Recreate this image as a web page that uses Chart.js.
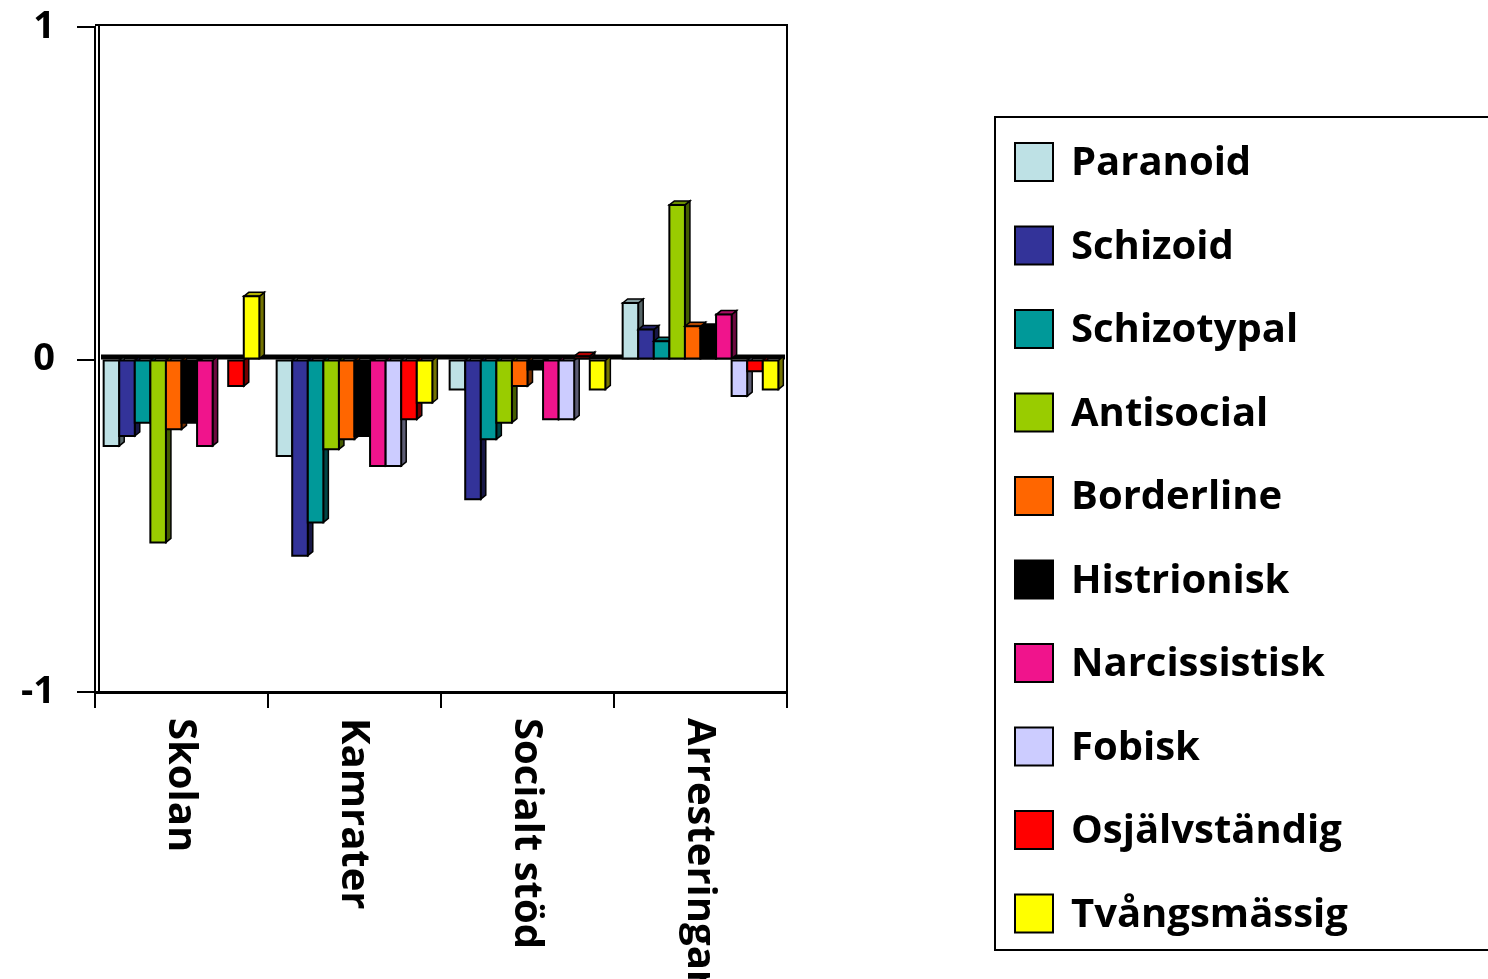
<!DOCTYPE html>
<html>
<head>
<meta charset="utf-8">
<script src="https://cdn.jsdelivr.net/npm/chart.js@4.4.0/dist/chart.umd.min.js"></script>
<style>
  body { margin: 0; background: #fff; }
  #wrap { width: 1488px; height: 979px; position: relative; }
</style>
</head>
<body>
<div id="wrap"><canvas id="myPlot"></canvas></div>
<script>
/* global Chart */
const categories = ['Skolan', 'Kamrater', 'Socialt stöd', 'Arresteringar'];
const seriesNames = ['Paranoid', 'Schizoid', 'Schizotypal', 'Antisocial', 'Borderline',
  'Histrionisk', 'Narcissistisk', 'Fobisk', 'Osjälvständig', 'Tvångsmässig'];
const paranoid      = [-0.26, -0.29, -0.09,  0.17];
const schizoid      = [-0.23, -0.59, -0.42,  0.09];
const schizotypal   = [-0.19, -0.49, -0.24,  0.055];
const antisocial    = [-0.55, -0.27, -0.19,  0.465];
const borderline    = [-0.21, -0.24, -0.08,  0.10];
const histrionisk   = [-0.19, -0.23, -0.03,  0.095];
const narcissistisk = [-0.26, -0.32, -0.18,  0.135];
const fobisk        = [ 0,    -0.32, -0.18, -0.11];
const osjalvstandig = [-0.08, -0.18,  0.01, -0.035];
const tvangsmassig  = [ 0.19, -0.13, -0.09, -0.09];
const yTicks = [-1, 0, 1];

var allValues = [paranoid, schizoid, schizotypal, antisocial, borderline,
  histrionisk, narcissistisk, fobisk, osjalvstandig, tvangsmassig];
var colors = ['#BEE1E5', '#333399', '#009999', '#99CC00', '#FF6600',
  '#000000', '#F0148C', '#CCCCFF', '#FF0000', '#FFFF00'];
var FONT = '"Open Sans", Lato, sans-serif';
var dx = 5, dy = 4;

function shade(hex, f) {
  var n = parseInt(hex.slice(1), 16);
  var r = Math.round(((n >> 16) & 255) * f);
  var g = Math.round(((n >> 8) & 255) * f);
  var b = Math.round((n & 255) * f);
  return 'rgb(' + r + ',' + g + ',' + b + ')';
}

function poly(ctx, pts, fill) {
  ctx.beginPath();
  ctx.moveTo(pts[0][0], pts[0][1]);
  for (var i = 1; i < pts.length; i++) ctx.lineTo(pts[i][0], pts[i][1]);
  ctx.closePath();
  ctx.fillStyle = fill;
  ctx.fill();
  ctx.stroke();
}

// back wall + zero floor, then fake 3D bars redrawn left to right
var depthPlugin = {
  id: 'depth',
  beforeDatasetsDraw: function(chart) {
    var ctx = chart.ctx, area = chart.chartArea;
    var y0 = chart.scales.y.getPixelForValue(0);
    ctx.save();
    ctx.strokeStyle = '#000';
    ctx.lineWidth = 2;
    ctx.beginPath();
    ctx.moveTo(area.left, area.top - 2);
    ctx.lineTo(area.right, area.top - 2);
    ctx.lineTo(area.right, area.bottom);
    ctx.moveTo(area.left + 4, area.top - 2);
    ctx.lineTo(area.left + 4, area.bottom);
    ctx.stroke();
    ctx.fillStyle = '#000';
    ctx.fillRect(area.left + 6, y0 - 5, area.right - area.left - 8, 5);
    ctx.restore();
  },
  afterDatasetsDraw: function(chart) {
    var ctx = chart.ctx;
    ctx.save();
    ctx.strokeStyle = '#000';
    ctx.lineJoin = 'miter';
    chart.data.datasets.forEach(function(ds, i) {
      var col = colors[i];
      chart.getDatasetMeta(i).data.forEach(function(el) {
        var p = el.getProps(['x', 'y', 'base', 'width'], true);
        if (Math.abs(p.y - p.base) < 1) return;
        var left = p.x - p.width / 2, right = p.x + p.width / 2;
        var top = Math.min(p.y, p.base), bottom = Math.max(p.y, p.base);
        ctx.lineWidth = 1.5;
        poly(ctx, [[right, top], [right + dx, top - dy], [right + dx, bottom - dy], [right, bottom]], shade(col, 0.45));
        if (p.y < p.base) {
          poly(ctx, [[left, top], [left + dx, top - dy], [right + dx, top - dy], [right, top]], shade(col, 0.7));
        }
        ctx.lineWidth = 2;
        poly(ctx, [[left, top], [right, top], [right, bottom], [left, bottom]], col);
      });
    });
    ctx.restore();
  }
};

// category labels, rotated clockwise, plus the legend box
var labelPlugin = {
  id: 'labels',
  afterDraw: function(chart) {
    var ctx = chart.ctx, xs = chart.scales.x, area = chart.chartArea;
    ctx.save();
    ctx.fillStyle = '#000';
    ctx.font = 'bold 40px ' + FONT;
    ctx.textAlign = 'left';
    ctx.textBaseline = 'middle';
    categories.forEach(function(c, i) {
      ctx.save();
      ctx.translate(xs.getPixelForValue(i) - 1, area.bottom + 26);
      ctx.rotate(Math.PI / 2);
      ctx.fillText(c, 0, 0);
      ctx.restore();
    });
    ctx.strokeStyle = '#000';
    ctx.lineWidth = 2;
    ctx.strokeRect(995, 117, 600, 833);
    ctx.font = 'bold 40px ' + FONT;
    chart.data.datasets.forEach(function(ds, i) {
      var cy = 162 + i * 83.5;
      ctx.fillStyle = ds.backgroundColor;
      ctx.fillRect(1015, cy - 19, 38, 38);
      ctx.strokeRect(1015, cy - 19, 38, 38);
      ctx.fillStyle = '#000';
      ctx.fillText(ds.label, 1071, cy + 2);
    });
    ctx.restore();
  }
};

new Chart(document.getElementById('myPlot'), {
  type: 'bar',
  data: {
    labels: categories,
    datasets: seriesNames.map(function(name, i) {
      return {
        label: name,
        data: allValues[i],
        backgroundColor: colors[i],
        borderColor: '#000',
        borderWidth: 2,
        borderSkipped: false,
        categoryPercentage: 0.9,
        barPercentage: 1.0
      };
    })
  },
  options: {
    responsive: true,
    maintainAspectRatio: false,
    animation: false,
    layout: { padding: { left: 0, top: 27, right: 701, bottom: 0 } },
    plugins: { legend: { display: false }, tooltip: { enabled: false } },
    scales: {
      x: {
        afterFit: function(s) { s.height = 287; s.paddingLeft = 0; s.paddingRight = 0; },
        ticks: { display: false },
        grid: { offset: true, drawOnChartArea: false, drawTicks: true, tickLength: 16, color: '#000', lineWidth: 2 },
        border: { display: true, color: '#000', width: 3 }
      },
      y: {
        min: -1,
        max: 1,
        afterFit: function(s) { s.width = 95; s.paddingTop = 0; s.paddingBottom = 0; },
        afterBuildTicks: function(s) { s.ticks = yTicks.map(function(v) { return { value: v }; }); },
        ticks: { color: '#000', padding: 22, font: { family: FONT, size: 38, weight: 'bold' } },
        grid: { drawOnChartArea: false, drawTicks: true, tickLength: 18, color: '#000', lineWidth: 2 },
        border: { display: true, color: '#000', width: 2 }
      }
    }
  },
  plugins: [depthPlugin, labelPlugin]
});
</script>
</body>
</html>
